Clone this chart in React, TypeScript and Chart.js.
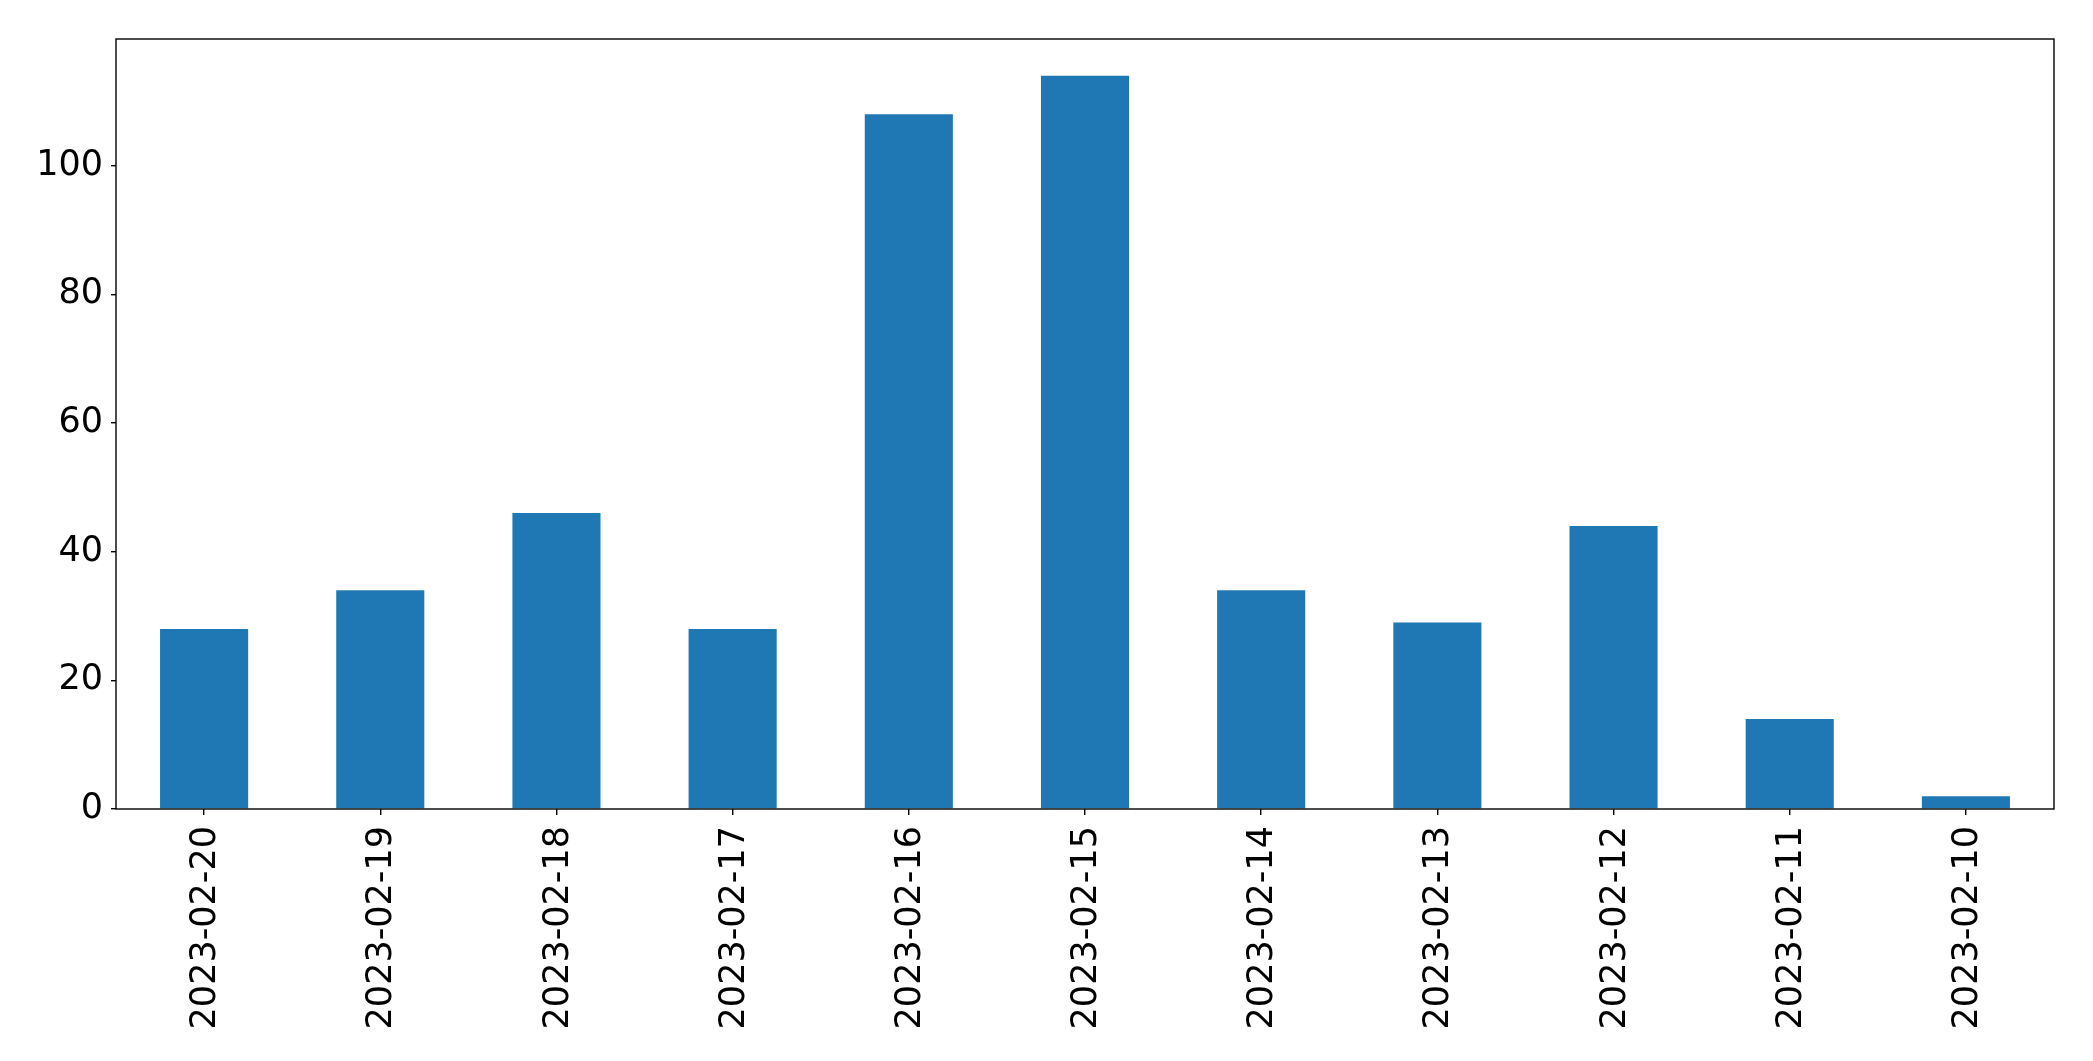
import React, { useEffect, useRef } from "react";
import { Chart, registerables } from "chart.js";

Chart.register(...registerables);

const categories = [
  "2023-02-20", "2023-02-19", "2023-02-18", "2023-02-17", "2023-02-16", "2023-02-15",
  "2023-02-14", "2023-02-13", "2023-02-12", "2023-02-11", "2023-02-10",
];
const values = [28, 34, 46, 28, 108, 114, 34, 29, 44, 14, 2];
const yTicks = [0, 20, 40, 60, 80, 100];

const W = 2093;
const H = 1061;

const frame = {
  id: "frame",
  afterDraw(chart: any) {
    const { ctx, chartArea: a } = chart;
    ctx.save();
    ctx.strokeStyle = "#000";
    ctx.lineWidth = 1.4;
    ctx.strokeRect(a.left, a.top, a.right - a.left, a.bottom - a.top);
    ctx.restore();
  },
};

export default function App() {
  const ref = useRef<HTMLCanvasElement>(null);
  useEffect(() => {
    const font = { family: "'DejaVu Sans', sans-serif", size: 35 };
    const chart = new Chart(ref.current!, {
      type: "bar",
      data: {
        labels: categories,
        datasets: [
          {
            data: values,
            backgroundColor: "#1f77b4",
            categoryPercentage: 0.5,
            barPercentage: 1,
          },
        ],
      },
      options: {
        responsive: false,
        animation: false,
        layout: { padding: { left: 0, top: 39, right: 39, bottom: 0 } },
        plugins: { legend: { display: false }, tooltip: { enabled: false } },
        scales: {
          x: {
            grid: { display: true, offset: false, drawOnChartArea: false, drawTicks: true, tickLength: 6, color: "#000", lineWidth: 1.4 },
            border: { display: false },
            ticks: { color: "#000", font, minRotation: 90, maxRotation: 90, padding: 11, labelOffset: 2, autoSkip: false },
            afterFit(s: any) { s.height = H - 809; },
          },
          y: {
            min: 0,
            max: 119.7,
            grid: { display: true, drawOnChartArea: false, drawTicks: true, tickLength: 5, color: "#000", lineWidth: 1.4 },
            border: { display: false },
            ticks: { color: "#000", font, stepSize: 20, padding: 8 },
            afterBuildTicks(s: any) {
              s.ticks = yTicks.map((v) => ({ value: v }));
            },
            afterFit(s: any) { s.width = 116; },
          },
        },
      },
      plugins: [frame],
    });
    return () => chart.destroy();
  }, []);
  return (
    <div style={{ position: "fixed", left: 0, top: 0, width: W, height: H, background: "#fff" }}>
      <canvas ref={ref} width={W} height={H} style={{ display: "block" }} />
    </div>
  );
}
